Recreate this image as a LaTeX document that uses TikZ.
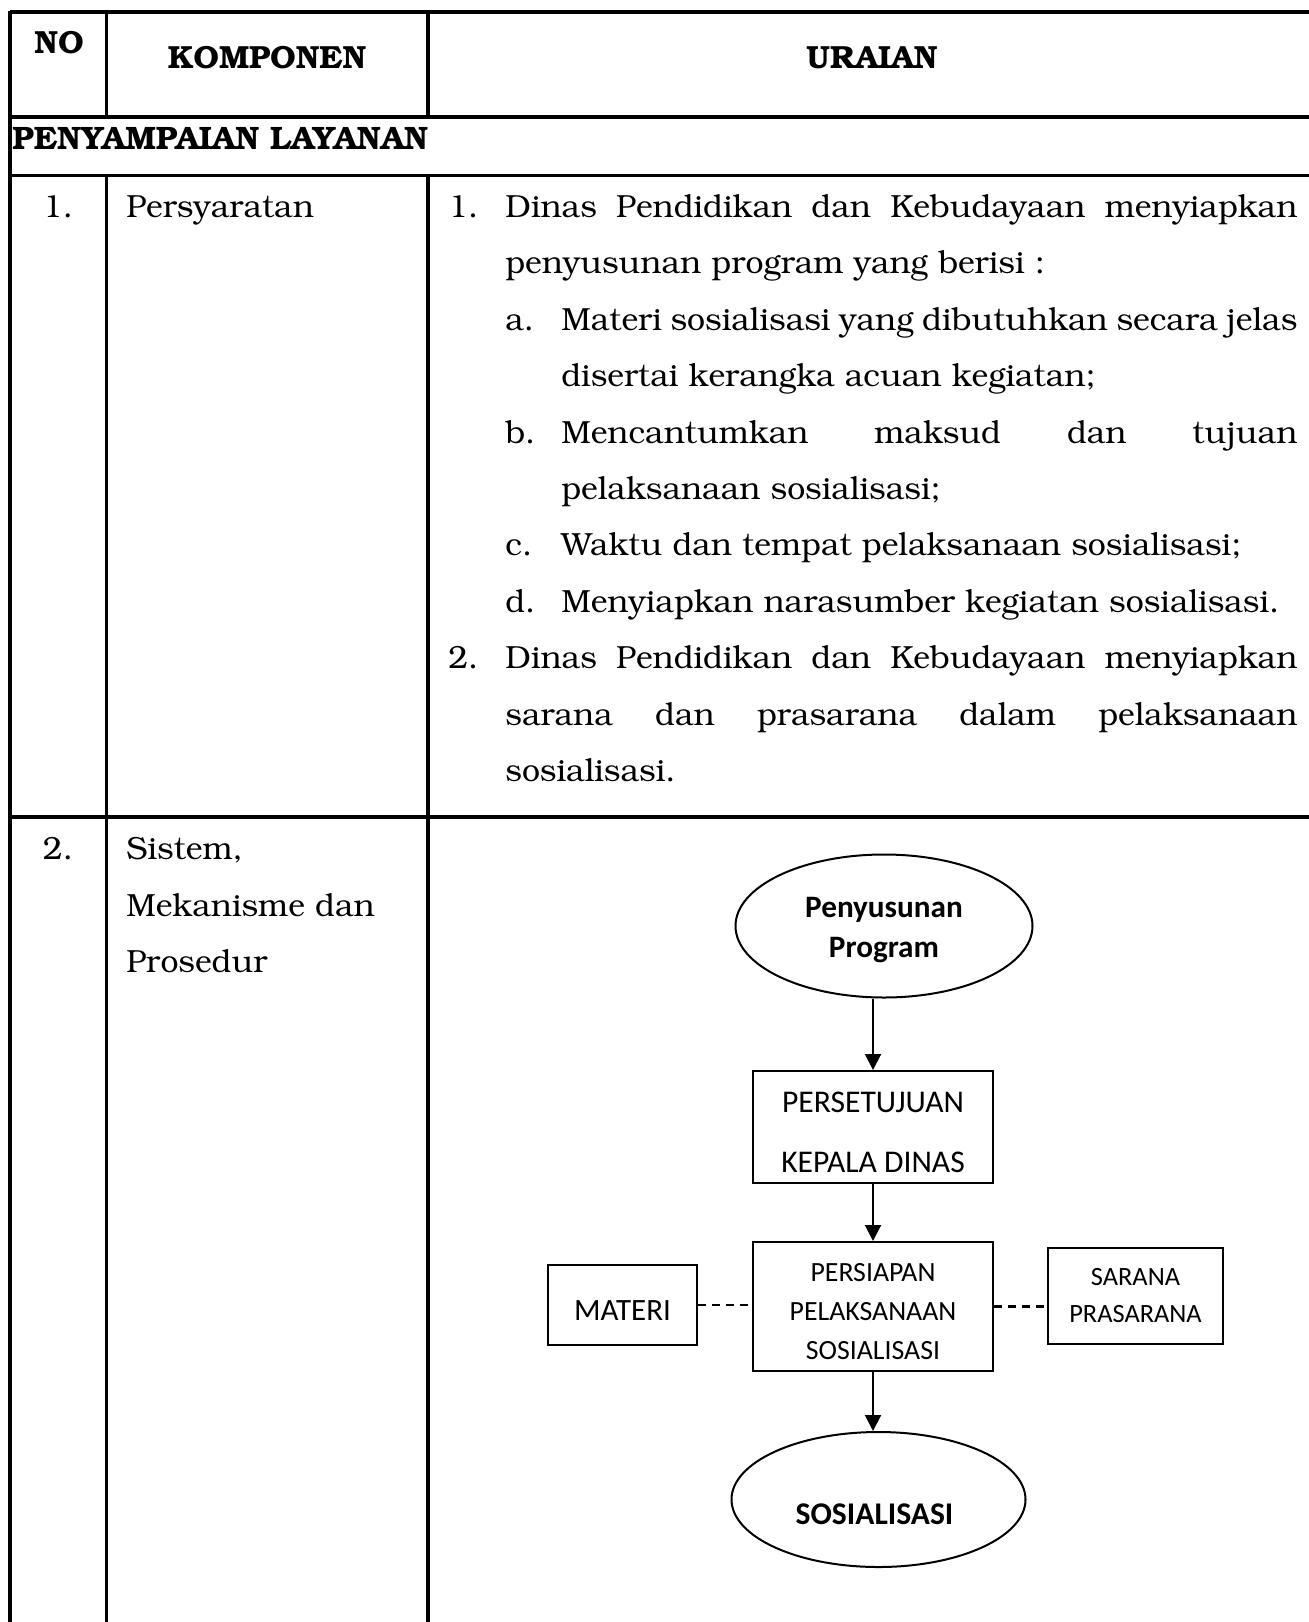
\documentclass[tikz,border=0pt]{standalone}
\usepackage{fontspec}
\newfontfamily\calib{Carlito}
\usepackage[T1]{fontenc}
\usepackage{bookman}
\usetikzlibrary{shapes.geometric,arrows.meta}
\tikzset{
  tblline/.style={line width=1.6pt},
  bodyt/.style={anchor=base west, inner sep=0pt, font=\fontsize{16}{20}\selectfont},
  bodyc/.style={anchor=base, inner sep=0pt, font=\fontsize{16}{20}\selectfont},
  hdrt/.style={anchor=base, inner sep=0pt, font=\fontsize{16}{20}\selectfont\bfseries},
  fcbox/.style={draw, line width=1pt, rectangle, inner sep=0pt},
  fcell/.style={draw, line width=1pt, ellipse, inner sep=0pt},
  fctext/.style={inner sep=0pt, align=center},
  arr/.style={line width=1pt, -{Triangle[length=8pt,width=8pt]}},
  dsh/.style={line width=1.1pt, dash pattern=on 4pt off 3pt},
}
\begin{document}
\begin{tikzpicture}[x=0.5pt,y=-0.5pt]
\useasboundingbox (0,0) rectangle (1309,1622);
% table grid
\draw[tblline] (10,12) -- (1309,12);
\draw[tblline] (10,117) -- (1309,117);
\draw[tblline] (10,175.5) -- (1309,175.5);
\draw[tblline] (10,817) -- (1309,817);
\draw[tblline] (10,11.2) -- (10,1622);
\draw[tblline] (106.5,12) -- (106.5,117);
\draw[tblline] (428,12) -- (428,117);
\draw[tblline] (106.5,175.5) -- (106.5,1622);
\draw[tblline] (428,175.5) -- (428,1622);
% header
\node[hdrt] (hno) at (59,54) {NO};
\node[hdrt] (hkomp) at (267,68) {KOMPONEN};
\node[hdrt] (hur) at (872,68) {URAIAN};
\node[hdrt, anchor=base west, font=\fontsize{16.2}{20}\selectfont\bfseries] (hsec) at (12,149) {PENYAMPAIAN LAYANAN};
% row 1
\node[bodyc] (r1no) at (58,217.5) {1.};
\node[bodyt] (r1k) at (126,217.5) {Persyaratan};
\node[bodyt] (u1) at (448,217.5) {1.};
\node[bodyt] (u1t) at (505,217.5) {\makebox[396pt][s]{Dinas Pendidikan dan Kebudayaan menyiapkan}};
\node[bodyt] (u2) at (505,273.9) {penyusunan program yang berisi :};
\node[bodyt] (ua) at (505,330.3) {a.};
\node[bodyt] (uat) at (561,330.3) {\makebox[368pt][s]{Materi sosialisasi yang dibutuhkan secara jelas}};
\node[bodyt] (ua2) at (561,386.7) {disertai kerangka acuan kegiatan;};
\node[bodyt] (ub) at (505,443.1) {b.};
\node[bodyt] (ubt) at (561,443.1) {\makebox[368pt][s]{Mencantumkan maksud dan tujuan}};
\node[bodyt] (ub2) at (561,499.5) {pelaksanaan sosialisasi;};
\node[bodyt] (uc) at (505,555.9) {c.};
\node[bodyt] (uct) at (561,555.9) {Waktu dan tempat pelaksanaan sosialisasi;};
\node[bodyt] (ud) at (505,612.3) {d.};
\node[bodyt] (udt) at (561,612.3) {Menyiapkan narasumber kegiatan sosialisasi.};
\node[bodyt] (u3) at (448,668.7) {2.};
\node[bodyt] (u3t) at (505,668.7) {\makebox[396pt][s]{Dinas Pendidikan dan Kebudayaan menyiapkan}};
\node[bodyt] (u4) at (505,725.1) {\makebox[396pt][s]{sarana dan prasarana dalam pelaksanaan}};
\node[bodyt] (u5) at (505,781.5) {sosialisasi.};
% row 2
\node[bodyc] (r2no) at (58,859.5) {2.};
\node[bodyt] (r2a) at (126,859.5) {Sistem,};
\node[bodyt] (r2b) at (126,916.5) {Mekanisme dan};
\node[bodyt] (r2c) at (126,972) {Prosedur};
% flowchart shapes
\node[fcell, minimum width=148.5pt, minimum height=71.5pt] (pp) at (884,926) {};
\node[fcbox, minimum width=120pt, minimum height=56pt] (pk) at (873,1127) {};
\node[fcbox, minimum width=120pt, minimum height=64.5pt] (ps) at (873,1306.5) {};
\node[fcbox, minimum width=74.5pt, minimum height=40.25pt] (mt) at (622.5,1305) {};
\node[fcbox, minimum width=87.5pt, minimum height=48pt] (sp) at (1135.5,1296) {};
\node[fcell, minimum width=147pt, minimum height=67.5pt] (so) at (878.5,1499.5) {};
% flowchart texts
\node[fctext, font=\calib\bfseries\fontsize{15.6}{20}\selectfont] (ppt) at ([yshift=-2pt]pp.center) {Penyusunan\\Program};
\node[fctext, font=\calib\fontsize{15.8}{30}\selectfont] (pkt) at ([yshift=-2.6pt]pk.center) {PERSETUJUAN\\KEPALA DINAS};
\node[fctext, font=\calib\fontsize{13.9}{19.5}\selectfont] (pst) at ([yshift=-2.3pt]ps.center) {PERSIAPAN\\PELAKSANAAN\\SOSIALISASI};
\node[fctext, font=\calib\fontsize{15.5}{19}\selectfont] (mtt) at ([yshift=-3pt]mt.center) {MATERI};
\node[fctext, font=\calib\fontsize{13.2}{18.5}\selectfont] (spt) at (sp.center) {SARANA\\PRASARANA};
\node[fctext, font=\calib\bfseries\fontsize{15.8}{19}\selectfont] (sot) at ([yshift=-7.5pt,xshift=-2pt]so.center) {SOSIALISASI};
% connectors
\draw[arr] (pk.north |- pp.south) -- (pk.north);
\draw[arr] (pk.south) -- (ps.north);
\draw[arr] (ps.south) -- (ps.south |- so.north);
\draw[dsh] (mt.east) -- (mt.east -| ps.west);
\draw[dsh] (ps.east) -- (ps.east -| sp.west);
\end{tikzpicture}
\end{document}
